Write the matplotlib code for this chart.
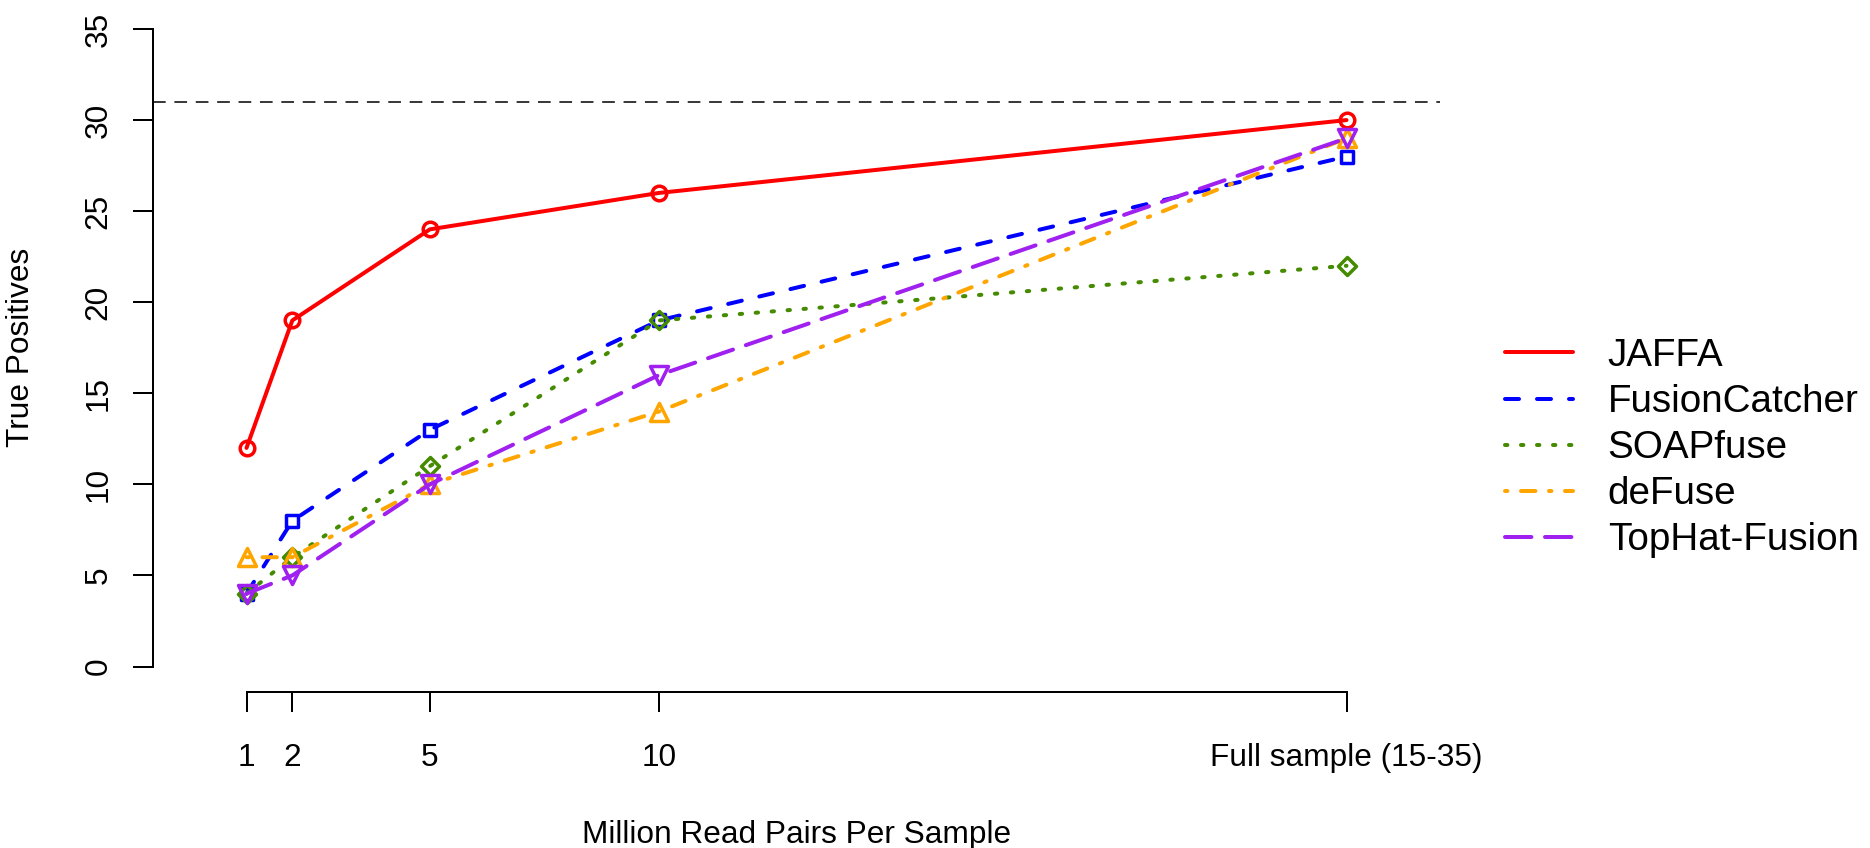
import matplotlib
matplotlib.use("Agg")
import matplotlib.pyplot as plt
from matplotlib.lines import Line2D
from matplotlib.markers import MarkerStyle

plt.rcParams['font.family'] = ['Liberation Sans', 'DejaVu Sans']
plt.rcParams['lines.dash_capstyle'] = 'round'
plt.rcParams['lines.solid_capstyle'] = 'round'

# ---- data ----
x_values = [1, 2, 5, 10, 25]
x_labels = ["1", "2", "5", "10", "Full sample (15-35)"]
y_ticks = [0, 5, 10, 15, 20, 25, 30, 35]
reference_total = 31

series_names = ["JAFFA", "FusionCatcher", "SOAPfuse", "deFuse", "TopHat-Fusion"]
jaffa = [12, 19, 24, 26, 30]
fusioncatcher = [4, 8, 13, 19, 28]
soapfuse = [4, 6, 11, 19, 22]
defuse = [6, 6, 10, 14, 29]
tophat = [4, 5, 10, 16, 29]
series_values = [jaffa, fusioncatcher, soapfuse, defuse, tophat]

colors = ["#FF0000", "#0000FF", "#458B00", "#FFA500", "#A020F0"]
linestyles = ["-", (0, (3.5, 4.5)), (0, (0.6, 3.4)), (0, (0.6, 3.4, 3.6, 3.4)), (0, (6.6, 3.4))]
markers = ["o", "s", "D", "^", "v"]
msizes = [10.5, 9.0, 8.9, 12.3, 12.3]

W, H = 1870, 848
fig = plt.figure(figsize=(W / 100, H / 100), dpi=100)

left_px, right_px, bottom_px, top_px = 153, 1440, 692, 3.5
ax = fig.add_axes([left_px / W, 1 - bottom_px / H,
                   (right_px - left_px) / W, (bottom_px - top_px) / H])
ax.set_xlim(-1.04, 27.04)
ax.set_ylim(-1.4, 36.4)
ax.patch.set_visible(False)

lw = 2.88
for name, vals, c, ls, m, ms in zip(series_names, series_values, colors, linestyles, markers, msizes):
    ax.plot(x_values, vals, color=c, linestyle=ls, linewidth=lw,
            marker=MarkerStyle(m, joinstyle='round'),
            markersize=ms, markerfacecolor='none', markeredgecolor=c,
            markeredgewidth=2.5, clip_on=False)

ax.axhline(reference_total, color='black', linewidth=1.1,
           linestyle=(0, (8.3, 5.7)), dash_capstyle='butt', zorder=0.5)

for s in ['top', 'right']:
    ax.spines[s].set_visible(False)
ax.spines['left'].set_bounds(0, 35)
ax.spines['bottom'].set_bounds(1, 25)
for s in ['left', 'bottom']:
    ax.spines[s].set_linewidth(1.44)

ax.set_xticks(x_values)
ax.set_xticklabels(x_labels)
ax.set_yticks(y_ticks)
ax.set_yticklabels([str(v) for v in y_ticks])
ax.tick_params(axis='both', direction='out', length=14.4, width=1.44, labelsize=22.8)
ax.tick_params(axis='x', pad=22)
ax.tick_params(axis='y', pad=14, labelrotation=90)
for lab in ax.get_yticklabels():
    lab.set_va('center')

ax.set_xlabel("Million Read Pairs Per Sample", fontsize=22.8)
ax.xaxis.set_label_coords(0.5, (bottom_px - 835) / (bottom_px - top_px))
ax.xaxis.label.set_va('center')
ax.set_ylabel("True Positives", fontsize=22.8)
ax.yaxis.set_label_coords((21.5 - left_px) / (right_px - left_px), 0.5)
ax.yaxis.label.set_va('center')

handles = [Line2D([], [], color=c, linestyle=ls, linewidth=lw)
           for c, ls in zip(colors, linestyles)]
fig.legend(handles, series_names, loc='upper left',
           bbox_to_anchor=(1505 / W, 1 - 338 / H), frameon=False,
           fontsize=27.8, borderpad=0, borderaxespad=0,
           handlelength=1.76, handletextpad=0.9, labelspacing=0.26)

fig.savefig("out.png", dpi=100)
